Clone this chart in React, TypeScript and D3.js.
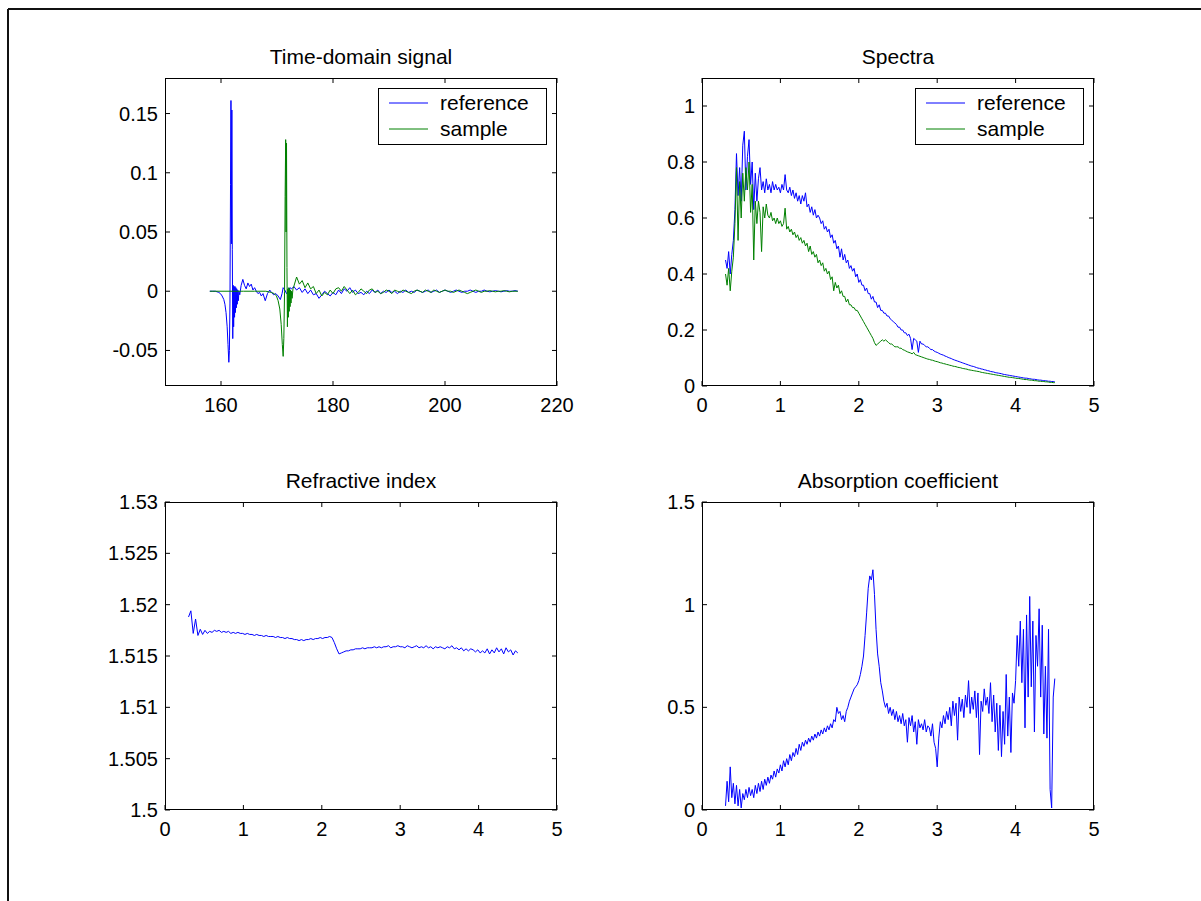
import React from 'react';
import * as d3 from 'd3';

const FONT = "'Liberation Sans', Arial, Helvetica, sans-serif";
const BLUE = '#0000ff';
const GREEN = '#008000';

// ---------- Time-domain signal ----------
const refHeadT = [158.0, 158.5, 159.0, 159.3, 159.6, 159.9, 160.2, 160.5, 160.7, 160.9, 161.1, 161.25, 161.4, 161.5, 161.6, 161.7, 161.78, 161.86, 161.94, 162.02, 162.1, 162.18, 162.26, 162.34, 162.42, 162.5, 162.58, 162.66, 162.74, 162.82, 162.9, 163.0, 163.1, 163.2, 163.35, 163.6, 163.9, 164.2, 164.5, 164.8, 165.1, 165.4, 165.7, 166.0, 166.3, 166.6, 166.9, 167.2, 167.5, 167.9, 168.3, 168.7, 169.0, 169.4, 169.8, 170.2, 170.6, 170.9, 171.1, 171.4, 171.7, 172.0, 172.3, 172.6];
const refHeadV = [0, 0, 0, -0.0005, -0.001, -0.002, -0.004, -0.007, -0.011, -0.018, -0.03, -0.045, -0.06, -0.05, -0.01, 0.09, 0.161, 0.04, 0.153, 0.035, -0.04, 0.005, -0.03, 0.004, -0.022, 0.004, -0.018, 0.003, -0.014, 0.002, -0.011, 0.001, -0.008, 0.0, -0.003, 0.005, 0.01, 0.005, 0.002, 0.007, 0.004, 0.006, 0.001, 0.003, 0.0, -0.002, -0.001, -0.004, -0.002, -0.008, -0.002, 0.001, -0.001, -0.003, -0.002, -0.004, -0.007, -0.002, 0.003, 0.001, -0.002, 0.0, 0.003, 0.002];
const samHeadT = [158.0, 160.0, 162.0, 164.0, 166.0, 168.0, 168.5, 169.0, 169.5, 169.9, 170.2, 170.5, 170.75, 170.95, 171.1, 171.22, 171.35, 171.45, 171.55, 171.62, 171.7, 171.78, 171.86, 171.94, 172.02, 172.1, 172.18, 172.26, 172.34, 172.42, 172.5, 172.6, 172.7, 172.85];
const samHeadV = [0, 0, 0, 0, 0, 0, -0.0005, -0.001, -0.002, -0.004, -0.008, -0.015, -0.028, -0.045, -0.055, -0.04, 0.0, 0.08, 0.128, 0.05, 0.125, 0.02, -0.03, 0.002, -0.022, 0.003, -0.017, 0.002, -0.013, 0.001, -0.01, 0.0, -0.006, 0.002];
const tailStart = 173.0;
const tailStep = 0.5;
const refTailV = [
  0.004, 0.001, 0.003, -0.001, 0.002, -0.002, 0.001, -0.003, -0.002, -0.006,
  -0.003, 0.0, -0.002, -0.004, -0.001, -0.003, 0.001, -0.002, 0.002, 0.0,
  0.003, -0.001, 0.001, -0.002, -0.001, -0.003, 0.0, -0.002, 0.001, -0.001,
  0.001, -0.002, 0.0, -0.001, 0.001, -0.001, 0.0, -0.002, 0.0, -0.001,
  0.001, -0.001, 0.0, -0.001, 0.001, 0.0, -0.001, 0.0, 0.001, -0.001,
  0.0, 0.001, -0.001, 0.0, 0.001, 0.0, -0.001, 0.0, 0.001, 0.0,
  -0.001, 0.0, 0.0, 0.001, 0.0, -0.001, 0.0, 0.0, 0.001, 0.0,
  -0.0005, 0.0, 0.0005, 0.0, -0.0005, 0.0, 0.0005, 0.0, 0.0, 0.0005,
  0.0,
];
const samTailV = [
  0.004, 0.012, 0.006, 0.009, 0.003, 0.007, 0.002, 0.004, -0.002, 0.001,
  -0.004, -0.001, -0.003, 0.001, -0.002, 0.002, 0.003, 0.0, 0.004, 0.001,
  -0.002, 0.001, -0.003, -0.001, 0.002, 0.0, -0.002, 0.001, 0.002, -0.001,
  0.0, -0.002, -0.001, 0.001, 0.0, -0.002, 0.001, 0.0, -0.001, 0.001,
  0.0, -0.001, -0.002, 0.0, 0.001, 0.0, -0.001, 0.001, 0.0, -0.001,
  0.001, 0.0, -0.001, 0.0, 0.001, 0.0, 0.0, -0.001, 0.0, 0.001,
  0.0, -0.001, -0.002, -0.001, 0.0, 0.001, 0.0, -0.001, 0.0, 0.0,
  0.0005, 0.0, -0.0005, 0.0, 0.0, 0.0005, 0.0, -0.0005, 0.0, 0.0,
  0.0,
];

// ---------- Spectra (x = 0.30 .. 4.50, step 0.02) ----------
const specStart = 0.3;
const specStep = 0.02;
const specRef = [
  0.45, 0.42, 0.48, 0.40, 0.47, 0.52, 0.63, 0.83, 0.68, 0.78,
  0.66, 0.86, 0.91, 0.70, 0.82, 0.88, 0.72, 0.80, 0.63, 0.76,
  0.66, 0.74, 0.78, 0.70, 0.73, 0.69, 0.74, 0.70, 0.72, 0.69,
  0.73, 0.70, 0.72, 0.70, 0.71, 0.69, 0.72, 0.70, 0.755, 0.70,
  0.69, 0.71, 0.68, 0.70, 0.67, 0.69, 0.66, 0.68, 0.65, 0.68,
  0.66, 0.69, 0.64, 0.65, 0.62, 0.64, 0.61, 0.63, 0.60, 0.61,
  0.60, 0.58, 0.59, 0.56, 0.57, 0.55, 0.56, 0.53, 0.54, 0.51,
  0.52, 0.49, 0.50, 0.46, 0.49, 0.45, 0.47, 0.44, 0.45, 0.42,
  0.43, 0.41, 0.42, 0.39, 0.40, 0.37, 0.38, 0.36, 0.36, 0.34,
  0.35, 0.33, 0.33, 0.31, 0.32, 0.30, 0.30, 0.28, 0.29, 0.27,
  0.27, 0.26, 0.26, 0.25, 0.25, 0.24, 0.235, 0.23, 0.225, 0.22,
  0.21, 0.21, 0.20, 0.20, 0.19, 0.19, 0.18, 0.185, 0.17, 0.13,
  0.17, 0.165, 0.16, 0.12, 0.16, 0.15, 0.15, 0.145, 0.14, 0.14,
  0.135, 0.13, 0.13, 0.125, 0.122, 0.12, 0.117, 0.114, 0.112, 0.11,
  0.107, 0.105, 0.102, 0.1, 0.098, 0.095, 0.093, 0.091, 0.089, 0.087,
  0.085, 0.083, 0.081, 0.079, 0.077, 0.075, 0.073, 0.071, 0.07, 0.068,
  0.066, 0.064, 0.063, 0.061, 0.06, 0.058, 0.057, 0.055, 0.054, 0.052,
  0.051, 0.05, 0.048, 0.047, 0.046, 0.045, 0.044, 0.042, 0.041, 0.04,
  0.039, 0.038, 0.037, 0.036, 0.035, 0.034, 0.033, 0.032, 0.031, 0.03,
  0.029, 0.028, 0.028, 0.027, 0.026, 0.025, 0.024, 0.024, 0.023, 0.022,
  0.021, 0.021, 0.02, 0.019, 0.019, 0.018, 0.017, 0.017, 0.016, 0.016,
  0.015,
];
const specSam = [
  0.40, 0.36, 0.42, 0.34, 0.41, 0.46, 0.58, 0.78, 0.52, 0.73,
  0.60, 0.76, 0.66, 0.78, 0.70, 0.80, 0.62, 0.72, 0.45, 0.66,
  0.58, 0.66, 0.62, 0.48, 0.64, 0.60, 0.65, 0.61, 0.60, 0.62,
  0.59, 0.60, 0.58, 0.60, 0.58, 0.59, 0.57, 0.58, 0.635, 0.56,
  0.57, 0.55, 0.56, 0.54, 0.55, 0.53, 0.54, 0.52, 0.53, 0.51,
  0.52, 0.50, 0.51, 0.48, 0.50, 0.47, 0.48, 0.46, 0.47, 0.44,
  0.45, 0.43, 0.44, 0.41, 0.42, 0.40, 0.41, 0.38, 0.39, 0.34,
  0.37, 0.35, 0.36, 0.33, 0.34, 0.32, 0.32, 0.30, 0.31, 0.29,
  0.29, 0.28, 0.28, 0.27, 0.27, 0.26, 0.25, 0.24, 0.23, 0.22,
  0.21, 0.20, 0.19, 0.18, 0.17, 0.155, 0.145, 0.15, 0.155, 0.16,
  0.165, 0.16, 0.165, 0.16, 0.155, 0.15, 0.15, 0.145, 0.14, 0.14,
  0.14, 0.135, 0.135, 0.13, 0.128, 0.125, 0.122, 0.12, 0.118, 0.115,
  0.12, 0.112, 0.11, 0.108, 0.106, 0.104, 0.102, 0.1, 0.098, 0.096,
  0.095, 0.093, 0.092, 0.09, 0.088, 0.087, 0.085, 0.083, 0.082, 0.08,
  0.079, 0.077, 0.076, 0.074, 0.073, 0.071, 0.07, 0.069, 0.067, 0.066,
  0.065, 0.063, 0.062, 0.061, 0.06, 0.058, 0.057, 0.056, 0.055, 0.054,
  0.053, 0.052, 0.051, 0.049, 0.048, 0.047, 0.046, 0.045, 0.044, 0.043,
  0.042, 0.041, 0.04, 0.039, 0.038, 0.037, 0.036, 0.035, 0.034, 0.033,
  0.032, 0.031, 0.031, 0.03, 0.029, 0.028, 0.027, 0.027, 0.026, 0.025,
  0.024, 0.023, 0.023, 0.022, 0.021, 0.021, 0.02, 0.019, 0.019, 0.018,
  0.017, 0.017, 0.016, 0.016, 0.015, 0.015, 0.014, 0.013, 0.013, 0.012,
  0.012,
];

// ---------- Refractive index (x = 0.30 .. 4.50, step 0.03) ----------
const riStart = 0.3;
const riStep = 0.03;
const refrIndex = [
  1.5188, 1.5194, 1.5172, 1.5186, 1.5170, 1.5176, 1.5171, 1.5175, 1.5172, 1.5174,
  1.5173, 1.5175, 1.5174, 1.5175, 1.5173, 1.5174, 1.5173, 1.5174, 1.5172, 1.5173,
  1.5172, 1.5173, 1.5172, 1.5172, 1.5171, 1.5172, 1.5171, 1.5171, 1.5170, 1.5171,
  1.5170, 1.5170, 1.5169, 1.5170, 1.5169, 1.5169, 1.5169, 1.5168, 1.5169, 1.5168,
  1.5168, 1.5167, 1.5168, 1.5167, 1.5167, 1.5166, 1.5166, 1.5165, 1.5166, 1.5165,
  1.5166, 1.5166, 1.5167, 1.5166, 1.5167, 1.5167, 1.5168, 1.5167, 1.5168, 1.5168,
  1.5169, 1.5168, 1.5163, 1.5157, 1.5152, 1.5153, 1.5154, 1.5155, 1.5155, 1.5156,
  1.5156, 1.5157, 1.5157, 1.5157, 1.5158, 1.5157, 1.5158, 1.5158, 1.5158, 1.5159,
  1.5158, 1.5159, 1.5158, 1.5159, 1.5159, 1.5160, 1.5158, 1.5159, 1.5159, 1.5160,
  1.5159, 1.5159, 1.5158, 1.5160, 1.5159, 1.5158, 1.5159, 1.5160, 1.5158, 1.5159,
  1.5158, 1.5160, 1.5158, 1.5159, 1.5157, 1.5159, 1.5158, 1.5159, 1.5158, 1.5157,
  1.5159, 1.5158, 1.5160, 1.5157, 1.5158, 1.5156, 1.5158, 1.5155, 1.5157, 1.5155,
  1.5157, 1.5156, 1.5154, 1.5156, 1.5153, 1.5155, 1.5153, 1.5157, 1.5152, 1.5156,
  1.5153, 1.5158, 1.5154, 1.5157, 1.5152, 1.5158, 1.5154, 1.5156, 1.5151, 1.5155,
  1.5153,
];

// ---------- Absorption coefficient (x = 0.30 .. 4.50, step 0.02) ----------
const abStart = 0.3;
const abStep = 0.02;
const absorption = [
  0.02, 0.14, 0.04, 0.21, 0.06, 0.13, 0.03, 0.12, 0.02, 0.10,
  0.01, 0.08, 0.05, 0.10, 0.06, 0.11, 0.07, 0.10, 0.06, 0.12,
  0.08, 0.13, 0.09, 0.14, 0.10, 0.15, 0.12, 0.16, 0.13, 0.17,
  0.15, 0.19, 0.16, 0.20, 0.18, 0.22, 0.19, 0.24, 0.21, 0.25,
  0.22, 0.27, 0.24, 0.28, 0.26, 0.30, 0.27, 0.32, 0.29, 0.33,
  0.31, 0.34, 0.32, 0.35, 0.33, 0.36, 0.34, 0.37, 0.35, 0.38,
  0.36, 0.39, 0.37, 0.40, 0.38, 0.41, 0.39, 0.42, 0.40, 0.44,
  0.43, 0.50, 0.47, 0.48, 0.44, 0.46, 0.43, 0.48, 0.50, 0.53,
  0.55, 0.57, 0.59, 0.60, 0.61, 0.63, 0.66, 0.70, 0.75, 0.85,
  0.96, 1.08, 1.14, 1.12, 1.17, 1.05, 0.88, 0.76, 0.70, 0.62,
  0.58, 0.53, 0.50, 0.52, 0.47, 0.50, 0.46, 0.49, 0.44, 0.48,
  0.43, 0.46, 0.42, 0.47, 0.41, 0.44, 0.33, 0.45, 0.41, 0.46,
  0.38, 0.43, 0.32, 0.44, 0.40, 0.42, 0.39, 0.44, 0.38, 0.41,
  0.40, 0.36, 0.42, 0.33, 0.30, 0.21, 0.35, 0.43, 0.40, 0.46,
  0.42, 0.48, 0.44, 0.50, 0.41, 0.53, 0.46, 0.52, 0.34, 0.55,
  0.48, 0.54, 0.45, 0.56, 0.50, 0.63, 0.47, 0.55, 0.49, 0.58,
  0.45, 0.57, 0.27, 0.53, 0.48, 0.59, 0.51, 0.55, 0.47, 0.62,
  0.43, 0.56, 0.38, 0.52, 0.29, 0.51, 0.26, 0.48, 0.32, 0.66,
  0.36, 0.55, 0.28, 0.57, 0.52, 0.63, 0.85, 0.70, 0.92, 0.62,
  0.88, 0.40, 0.95, 0.55, 1.04, 0.60, 0.92, 0.38, 0.85, 0.70,
  0.98, 0.55, 0.90, 0.37, 0.70, 0.35, 0.88, 0.10, 0.01, 0.55,
  0.64,
];

// ---------- Ticks ----------
const tdXTicks = [160, 180, 200, 220];
const tdYTicks = [-0.05, 0, 0.05, 0.1, 0.15];
const tdYLabels = ['-0.05', '0', '0.05', '0.1', '0.15'];
const freqTicks = [0, 1, 2, 3, 4, 5];
const specYTicks = [0, 0.2, 0.4, 0.6, 0.8, 1];
const specYLabels = ['0', '0.2', '0.4', '0.6', '0.8', '1'];
const riYTicks = [1.5, 1.505, 1.51, 1.515, 1.52, 1.525, 1.53];
const riYLabels = ['1.5', '1.505', '1.51', '1.515', '1.52', '1.525', '1.53'];
const abYTicks = [0, 0.5, 1, 1.5];
const abYLabels = ['0', '0.5', '1', '1.5'];
const legendNames = ['reference', 'sample'];

const grid = (start: number, step: number, n: number) =>
  Array.from({ length: n }, (_, i) => +(start + step * i).toFixed(4));

type Series = { xs: number[]; ys: number[]; color: string };

type PanelProps = {
  left: number; top: number; width: number; height: number;
  xDomain: [number, number]; yDomain: [number, number];
  xTicks: number[]; yTicks: number[]; yLabels: string[];
  title: string; series: Series[]; legend?: boolean; legendLeft?: number;
  clipId: string;
};

function Panel(p: PanelProps) {
  const x = d3.scaleLinear().domain(p.xDomain).range([p.left, p.left + p.width]);
  const y = d3.scaleLinear().domain(p.yDomain).range([p.top + p.height, p.top]);
  const bottom = p.top + p.height;
  const right = p.left + p.width;
  const tl = 5;
  const fs = 20;
  const fsText = 21;
  return (
    <g>
      <defs>
        <clipPath id={p.clipId}>
          <rect x={p.left} y={p.top} width={p.width} height={p.height} />
        </clipPath>
      </defs>
      <rect x={p.left} y={p.top} width={p.width} height={p.height} fill="#fff" stroke="none" />
      <g clipPath={`url(#${p.clipId})`}>
        {p.series.map((s, i) => {
          const pts: [number, number][] = s.xs.map((xv, j) => [xv, s.ys[j]]);
          const line = d3.line<[number, number]>().x(d => x(d[0])).y(d => y(d[1]));
          return <path key={i} d={line(pts) || ''} fill="none" stroke={s.color} strokeWidth={1} />;
        })}
      </g>
      {p.xTicks.map((t, i) => (
        <g key={'xt' + i}>
          <line x1={x(t)} x2={x(t)} y1={bottom} y2={bottom - tl} stroke="#000" />
          <line x1={x(t)} x2={x(t)} y1={p.top} y2={p.top + tl} stroke="#000" />
          <text x={x(t)} y={bottom + 26} textAnchor="middle" fontSize={fs} fontFamily={FONT} fill="#000">{String(t)}</text>
        </g>
      ))}
      {p.yTicks.map((t, i) => (
        <g key={'yt' + i}>
          <line x1={p.left} x2={p.left + tl} y1={y(t)} y2={y(t)} stroke="#000" />
          <line x1={right} x2={right - tl} y1={y(t)} y2={y(t)} stroke="#000" />
          <text x={p.left - 7} y={y(t) + 7} textAnchor="end" fontSize={fs} fontFamily={FONT} fill="#000">{p.yLabels[i]}</text>
        </g>
      ))}
      <rect x={p.left + 0.5} y={p.top + 0.5} width={p.width - 1} height={p.height - 1} fill="none" stroke="#000" strokeWidth={1} />
      <text x={p.left + p.width / 2} y={p.top - 14} textAnchor="middle" fontSize={fsText} fontFamily={FONT} fill="#000">{p.title}</text>
      {p.legend && p.legendLeft !== undefined && (
        <g>
          <rect x={p.legendLeft + 0.5} y={p.top + 10.5} width={168} height={56} fill="#fff" stroke="#000" strokeWidth={1} />
          {legendNames.map((name, i) => (
            <g key={name}>
              <line x1={p.legendLeft! + 11} x2={p.legendLeft! + 50} y1={p.top + 25 + i * 26} y2={p.top + 25 + i * 26} stroke={p.series[i].color} strokeWidth={1} />
              <text x={p.legendLeft! + 62} y={p.top + 32 + i * 26} fontSize={fsText} fontFamily={FONT} fill="#000">{name}</text>
            </g>
          ))}
        </g>
      )}
    </g>
  );
}

export default function App() {
  const refT = [...refHeadT, ...grid(tailStart, tailStep, refTailV.length)];
  const refV = [...refHeadV, ...refTailV];
  const samT = [...samHeadT, ...grid(tailStart, tailStep, samTailV.length)];
  const samV = [...samHeadV, ...samTailV];
  const specX = grid(specStart, specStep, specRef.length);
  const riX = grid(riStart, riStep, refrIndex.length);
  const abX = grid(abStart, abStep, absorption.length);

  const L1 = 165, L2 = 702, W = 392, T1 = 78, T2 = 502, Hh = 308;

  return (
    <svg width={1201} height={901} style={{ position: 'absolute', left: 0, top: 0, background: '#fff' }}>
      <rect x={0} y={0} width={1201} height={901} fill="#fff" />
      <line x1={8} x2={1201} y1={9} y2={9} stroke="#111" strokeWidth={2} />
      <line x1={8} x2={8} y1={9} y2={901} stroke="#111" strokeWidth={2} />
      <Panel clipId="c1" left={L1} top={T1} width={W} height={Hh} xDomain={[150, 220]} yDomain={[-0.08, 0.18]}
        xTicks={tdXTicks} yTicks={tdYTicks} yLabels={tdYLabels} title="Time-domain signal"
        series={[{ xs: refT, ys: refV, color: BLUE }, { xs: samT, ys: samV, color: GREEN }]} legend legendLeft={378} />
      <Panel clipId="c2" left={L2} top={T1} width={W} height={Hh} xDomain={[0, 5]} yDomain={[0, 1.1]}
        xTicks={freqTicks} yTicks={specYTicks} yLabels={specYLabels} title="Spectra"
        series={[{ xs: specX, ys: specRef, color: BLUE }, { xs: specX, ys: specSam, color: GREEN }]} legend legendLeft={915} />
      <Panel clipId="c3" left={L1} top={T2} width={W} height={Hh} xDomain={[0, 5]} yDomain={[1.5, 1.53]}
        xTicks={freqTicks} yTicks={riYTicks} yLabels={riYLabels} title="Refractive index"
        series={[{ xs: riX, ys: refrIndex, color: BLUE }]} />
      <Panel clipId="c4" left={L2} top={T2} width={W} height={Hh} xDomain={[0, 5]} yDomain={[0, 1.5]}
        xTicks={freqTicks} yTicks={abYTicks} yLabels={abYLabels} title="Absorption coefficient"
        series={[{ xs: abX, ys: absorption, color: BLUE }]} />
    </svg>
  );
}
